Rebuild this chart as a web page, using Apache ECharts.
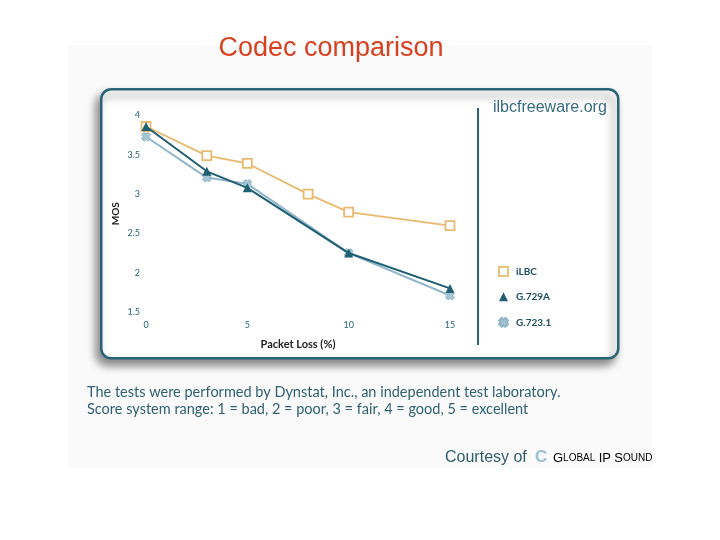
<!DOCTYPE html>
<html><head><meta charset="utf-8">
<script src="https://cdn.jsdelivr.net/npm/echarts@6/dist/echarts.min.js"></script>
<style>html,body{margin:0;padding:0;background:#fff}#c{width:720px;height:540px}</style>
</head><body><div id="c"></div>
<script>
var seriesNames = ['iLBC', 'G.729A', 'G.723.1'];
var ilbcData = [[0, 3.86], [3, 3.49], [5, 3.39], [8, 3.0], [10, 2.77], [15, 2.60]];
var g729aData = [[0, 3.86], [3, 3.29], [5, 3.08], [10, 2.25], [15, 1.80]];
var g7231Data = [[0, 3.73], [3, 3.21], [5, 3.13], [10, 2.25], [15, 1.71]];
var xTicks = [0, 5, 10, 15];
var yTicks = [1.5, 2, 2.5, 3, 3.5, 4];

var teal = '#24657a';
var crossPath = 'path://M3,0 L5,2 L7,0 L10,3 L8,5 L10,7 L7,10 L5,8 L3,10 L0,7 L2,5 L0,3 Z';

var chart = echarts.init(document.getElementById('c'));
chart.setOption({
  backgroundColor: '#ffffff',
  animation: false,
  title: {
    text: 'Codec comparison', left: 326, top: 30, textAlign: 'center',
    textStyle: { fontFamily: 'Liberation Sans', fontSize: 27, fontWeight: 'normal', color: '#d8401f' }
  },
  graphic: [
    { type: 'rect', left: 68, top: 45, z: -10, shape: { width: 584, height: 423 }, style: { fill: '#fafafa' } },
    { type: 'rect', left: 100, top: 88, z: -5, shape: { width: 517, height: 269, r: 10 },
      style: { fill: '#ffffff', stroke: '#2a6577', lineWidth: 2.5, shadowBlur: 8, shadowOffsetX: -4, shadowOffsetY: 6, shadowColor: 'rgba(0,0,0,0.45)' } },
    { type: 'line', z: 1, shape: { x1: 478, y1: 108, x2: 478, y2: 345 }, style: { stroke: '#2a6577', lineWidth: 2 } },
    { type: 'text', left: 493, top: 100, z: 2, style: { text: 'ilbcfreeware.org', font: '16px "Liberation Sans"', fill: '#3a6d80' } },
    { type: 'text', left: 87, top: 384, z: 2, style: { text: 'The tests were performed by Dynstat, Inc., an independent test laboratory.\nScore system range: 1 = bad, 2 = poor, 3 = fair, 4 = good, 5 = excellent', font: '14.5px Lato', lineHeight: 17, fill: '#2f6172' } },
    { type: 'text', left: 445, top: 450, z: 2, style: { text: 'Courtesy of', font: '16px "Liberation Sans"', fill: '#2f5c6b' } },
    { type: 'text', left: 535, top: 449, z: 2, style: { text: 'C', font: 'bold 17px "Liberation Sans"', fill: '#9cc0d0' } },
    { type: 'text', left: 553, top: 452, z: 2, style: {
        text: '{b|G}{s|LOBAL} {b|IP} {b|S}{s|OUND}',
        rich: { b: { fontSize: 13, fontFamily: 'Liberation Sans', color: '#222' }, s: { fontSize: 10, fontFamily: 'Liberation Sans', color: '#222' } } } }
  ],
  legend: {
    orient: 'vertical', left: 493, top: 261, itemGap: 15, itemWidth: 9, itemHeight: 9,
    data: [
      { name: seriesNames[0], icon: 'rect', itemStyle: { color: '#ffffff', borderColor: '#eab96e', borderWidth: 1.8 } },
      { name: seriesNames[1], icon: 'triangle' },
      { name: seriesNames[2], icon: crossPath }
    ],
    textStyle: { color: '#1e4f60', fontSize: 10, fontWeight: 'bold', fontFamily: 'Lato', padding: [0, 0, 0, 3] }
  },
  grid: { left: 146, top: 115.5, width: 304, height: 196.5 },
  xAxis: {
    type: 'value', min: 0, max: 15, interval: 5,
    name: 'Packet Loss (%)', nameLocation: 'middle', nameGap: 27,
    nameTextStyle: { color: '#222', fontWeight: 'bold', fontSize: 11, fontFamily: 'Lato' },
    axisLine: { show: false }, axisTick: { show: false }, splitLine: { show: false },
    axisLabel: { color: teal, fontSize: 9, fontFamily: 'Lato', margin: 9 }
  },
  yAxis: {
    type: 'value', min: 1.5, max: 4, interval: 0.5,
    name: 'MOS', nameLocation: 'middle', nameGap: 25, nameRotate: 90,
    nameTextStyle: { color: '#222', fontWeight: 'bold', fontSize: 10, fontFamily: 'Lato' },
    axisLine: { show: false }, axisTick: { show: false }, splitLine: { show: false },
    axisLabel: { color: teal, fontSize: 9, fontFamily: 'Lato', margin: 6 }
  },
  series: [
    { name: seriesNames[0], type: 'line', data: ilbcData, symbol: 'rect', symbolSize: 9, z: 2,
      lineStyle: { color: '#eab96e', width: 1.8 },
      itemStyle: { color: '#ffffff', borderColor: '#eab96e', borderWidth: 1.8 } },
    { name: seriesNames[2], type: 'line', data: g7231Data, symbol: crossPath, symbolSize: 9, z: 3,
      lineStyle: { color: '#8fb5c8', width: 2 },
      itemStyle: { color: '#a6c5d4', borderColor: '#8fb5c8', borderWidth: 1 } },
    { name: seriesNames[1], type: 'line', data: g729aData, symbol: 'triangle', symbolSize: 9, z: 4,
      lineStyle: { color: '#1f5f73', width: 2 },
      itemStyle: { color: '#1f5f73' } }
  ]
});
</script></body></html>
